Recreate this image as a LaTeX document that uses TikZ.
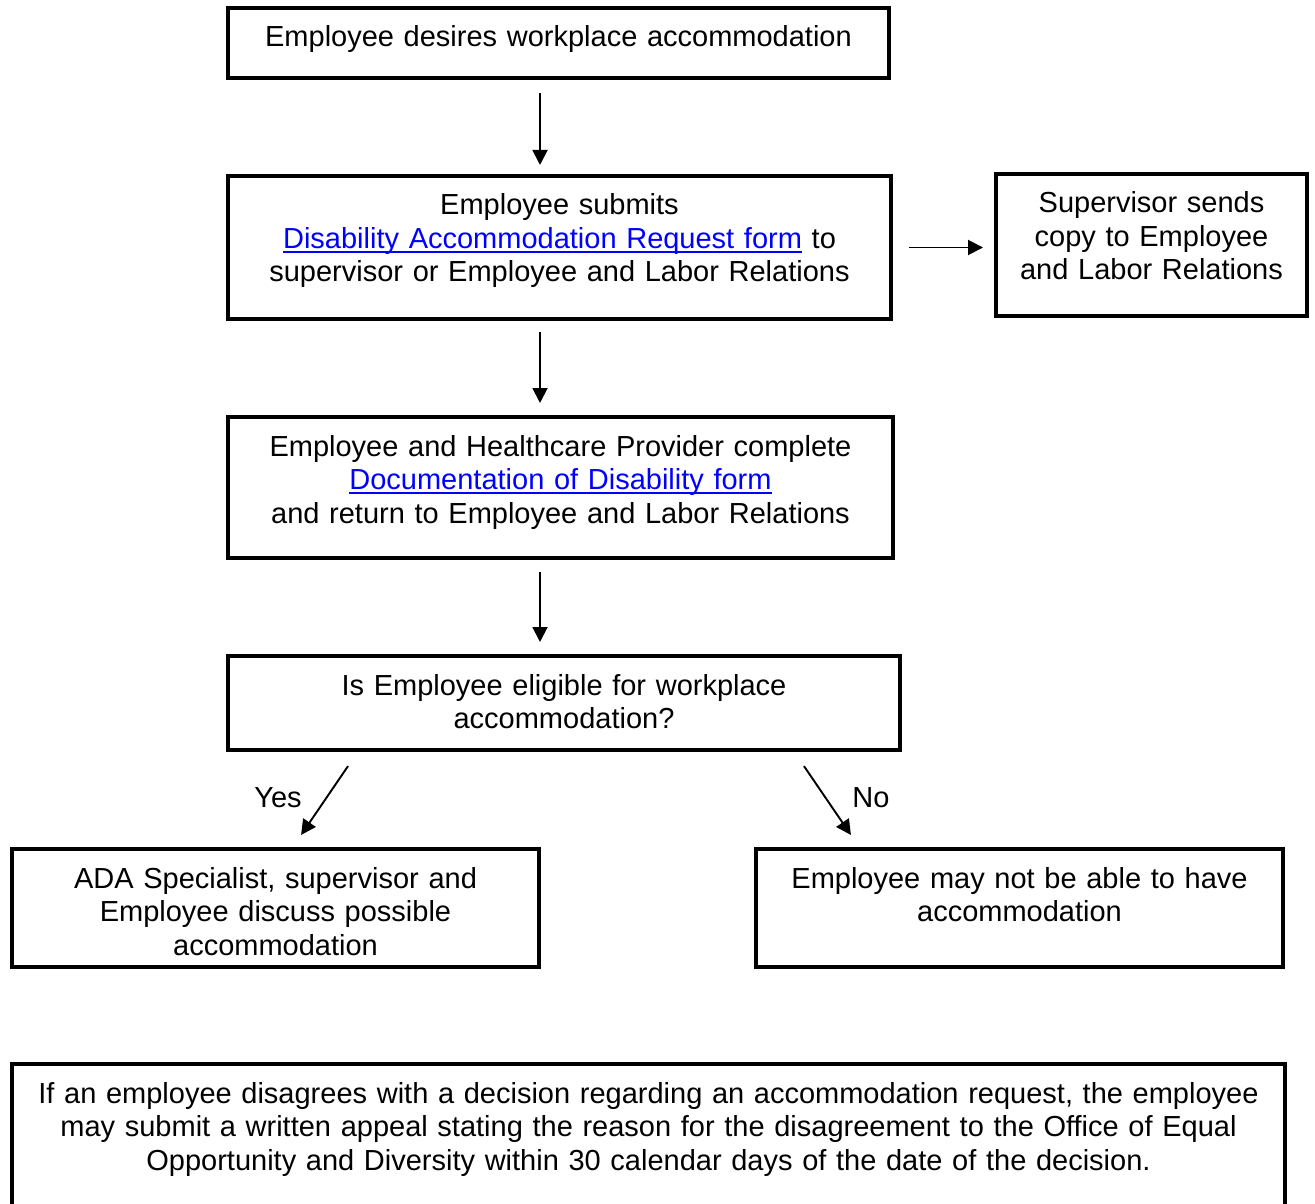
\documentclass[tikz,border=0pt]{standalone}
\usepackage{fontspec}
\setmainfont{Liberation Sans}
\usetikzlibrary{arrows.meta}

\newcommand\weblink[1]{\textcolor{blue}{\setbox0\hbox{#1}\rlap{\rule[-2.2pt]{\wd0}{1pt}}\box0}}

\tikzset{every picture/.style={line width=0.8pt},
	stepbox/.style={draw, line width=2.4pt, anchor=north west, outer sep=0pt,
		inner xsep=0pt, inner ysep=8.5pt, align=center, text height=11pt,
		font=\fontsize{14.5pt}{16.75pt}\selectfont},
	tag/.style={anchor=base, inner sep=0pt, font=\fontsize{14.5pt}{16.75pt}\selectfont},
	flow/.style={-{Triangle[length=7.5pt,width=7.5pt]}, line width=0.95pt}}

\begin{document}
\begin{tikzpicture}[x=0.5pt,y=0.5pt,yscale=-1,xscale=1]
		\useasboundingbox (0,0) rectangle (1315,1203);

		%Shape: Rectangle [id:desire]
		\node[stepbox, text width=330.5pt, text depth=7pt] (desire) at (228,8) {Employee desires workplace accommodation};

		%Shape: Rectangle [id:submit]
		\node[stepbox, text width=331.5pt, text depth=43.5pt] (submit) at (228,176) {Employee submits\\ \weblink{Disability Accommodation Request form} to\\ supervisor or Employee and Labor Relations};

		%Shape: Rectangle [id:copy]
		\node[stepbox, text width=155.5pt, text depth=43pt] (copy) at (996,174) {Supervisor sends\\ copy to Employee\\ and Labor Relations};

		%Shape: Rectangle [id:document]
		\node[stepbox, text width=332.5pt, text depth=42.5pt] (document) at (228,417) {Employee and Healthcare Provider complete\\ \weblink{Documentation of Disability form}\\ and return to Employee and Labor Relations};

		%Shape: Rectangle [id:eligible]
		\node[stepbox, text width=336pt, text depth=19pt] (eligible) at (228,656) {Is Employee eligible for workplace\\ accommodation?};

		%Shape: Rectangle [id:discuss]
		\node[stepbox, text width=263.5pt, text depth=31pt] (discuss) at (12,849) {ADA Specialist, supervisor and\\ Employee discuss possible\\ accommodation};

		%Shape: Rectangle [id:decline]
		\node[stepbox, text width=263.5pt, text depth=31pt] (decline) at (756,849) {Employee may not be able to have\\ accommodation};

		%Shape: Rectangle [id:appeal]
		\node[stepbox, text width=636.5pt, text depth=52pt] (appeal) at (12,1064) {If an employee disagrees with a decision regarding an accommodation request, the employee\\ may submit a written appeal stating the reason for the disagreement to the Office of Equal\\ Opportunity and Diversity within 30 calendar days of the date of the decision.};

		\coordinate (spine) at (540,0);

		%Straight Lines [id:desire-submit]
		\draw[flow, shorten <=7.5pt, shorten >=5.5pt] (desire.south -| spine) -- (submit.north -| spine);

		%Straight Lines [id:submit-document]
		\draw[flow, shorten <=6.5pt, shorten >=7pt] (submit.south -| spine) -- (document.north -| spine);

		%Straight Lines [id:document-eligible]
		\draw[flow, shorten <=7pt, shorten >=7pt] (document.south -| spine) -- (eligible.north -| spine);

		%Straight Lines [id:submit-copy]
		\draw[flow, shorten <=9pt, shorten >=6.5pt] (submit.east) -- (submit.east -| copy.west);

		%Straight Lines [id:eligible-discuss]
		\draw[flow, shorten <=9.7pt, shorten >=8.5pt] ([xshift=65.5pt]eligible.south west) -- ([xshift=139.75pt]discuss.north west);

		%Straight Lines [id:eligible-decline]
		\draw[flow, shorten <=9.7pt, shorten >=8.5pt] ([xshift=-53.5pt]eligible.south east) -- ([xshift=52.25pt]decline.north west);

		% Text Node
		\node[tag] (yes) at (278,807) {Yes};

		% Text Node
		\node[tag] (no) at (871,807) {No};
	\end{tikzpicture}
\end{document}
